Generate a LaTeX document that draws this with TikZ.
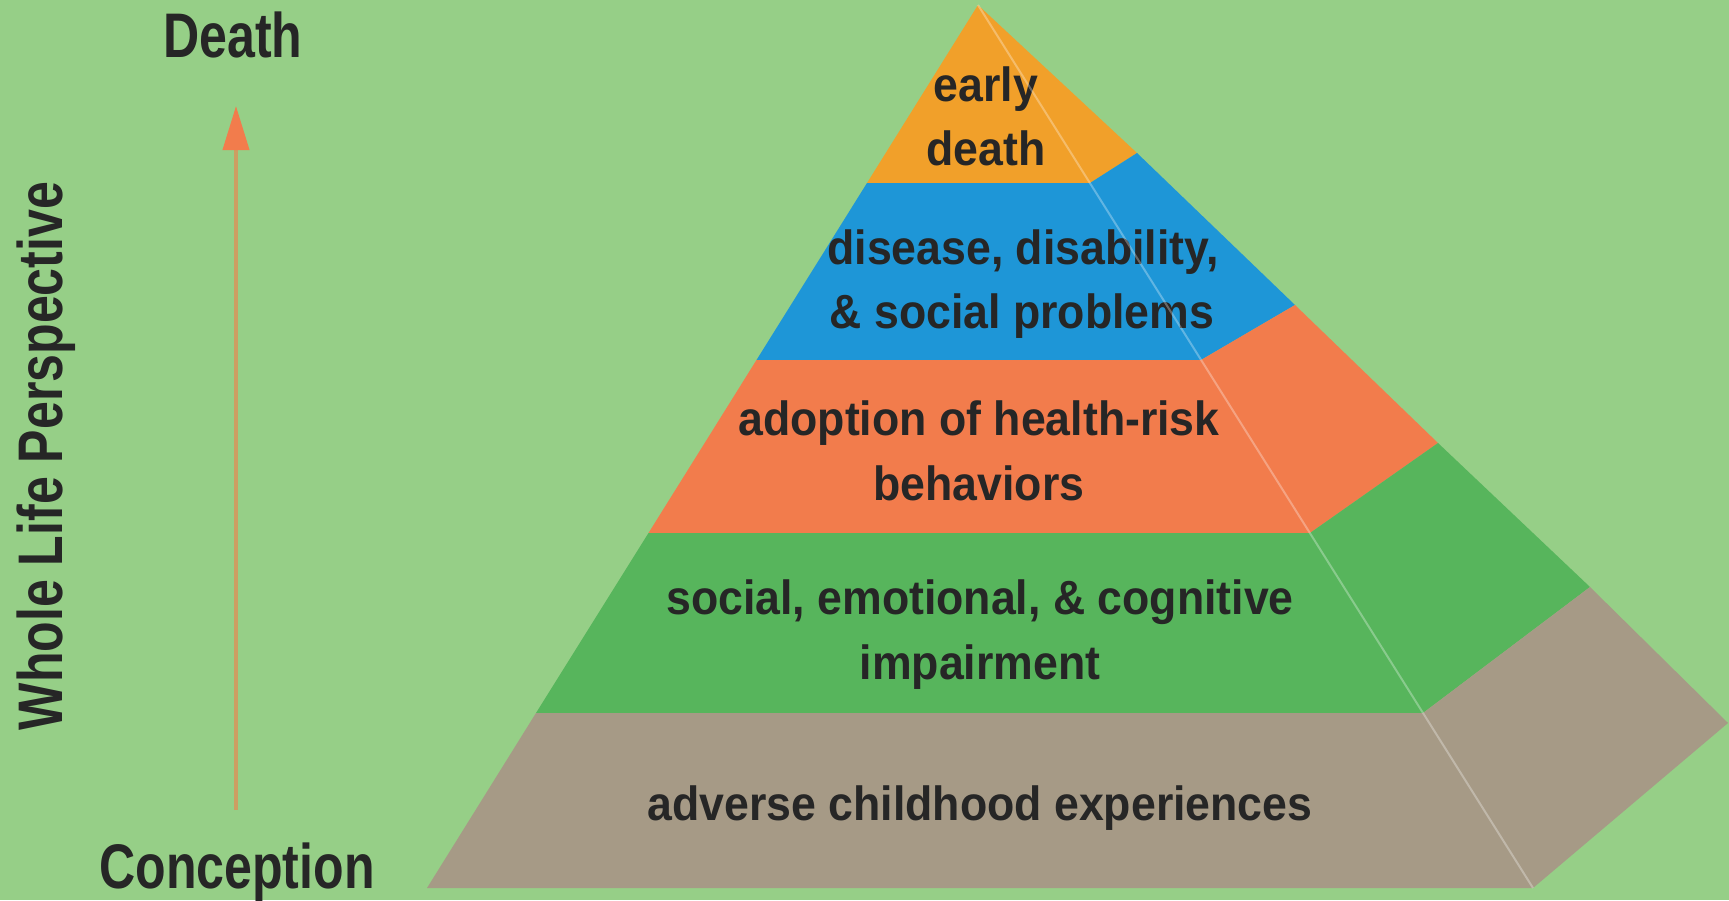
\documentclass[tikz,border=0pt]{standalone}
\usepackage{fontspec}
\usetikzlibrary{arrows.meta}
\newfontfamily\pyrfont[FakeStretch=0.93]{Liberation Sans}
\newfontfamily\lblfont[FakeStretch=0.795]{Liberation Sans}
\definecolor{bggreen}{RGB}{150,207,135}
\definecolor{toporange}{RGB}{241,160,42}
\definecolor{pblue}{RGB}{30,150,215}
\definecolor{pcoral}{RGB}{242,124,76}
\definecolor{pgreen}{RGB}{87,181,92}
\definecolor{pgrey}{RGB}{166,154,134}
\definecolor{txt}{RGB}{38,38,38}
\definecolor{arrowtan}{RGB}{205,158,98}
\tikzset{
  ptext/.style={font=\pyrfont\bfseries\fontsize{48}{56}\selectfont, text=txt, inner sep=0pt, anchor=base},
  lbl/.style={font=\lblfont\bfseries\fontsize{63}{70}\selectfont, text=txt, inner sep=0pt, anchor=base},
  ridge/.style={draw=white, draw opacity=0.3, line width=2pt},
}
\begin{document}
\begin{tikzpicture}[x=1pt,y=-1pt]
\useasboundingbox (0,0) rectangle (1729,900);
\fill[bggreen] (0,0) rectangle (1729,900);
% key points
\coordinate (A) at (978,5);
\coordinate (L1) at (867,183);  \coordinate (R1) at (1090,183); \coordinate (O1) at (1137,153);
\coordinate (L2) at (756.5,360);\coordinate (R2) at (1201,360); \coordinate (O2) at (1295,305);
\coordinate (L3) at (648.5,533);\coordinate (R3) at (1310,533); \coordinate (O3) at (1438,443);
\coordinate (L4) at (536,713);  \coordinate (R4) at (1423,713); \coordinate (O4) at (1590,587);
\coordinate (L5) at (427,888);  \coordinate (R5) at (1533,888); \coordinate (O5) at (1728,723);
% bands
\fill[toporange] (A) -- (L1) -- (R1) -- (O1) -- cycle;
\fill[pblue] (L1) -- (L2) -- (R2) -- (O2) -- (O1) -- (R1) -- cycle;
\fill[pcoral] (L2) -- (L3) -- (R3) -- (O3) -- (O2) -- (R2) -- cycle;
\fill[pgreen] (L3) -- (L4) -- (R4) -- (O4) -- (O3) -- (R3) -- cycle;
\fill[pgrey] (L4) -- (L5) -- (R5) -- (O5) -- (O4) -- (R4) -- cycle;
% texts
\node[ptext] (t1a) at (986,101) {early};
\node[ptext] (t1b) at (986,165) {death};
\node[ptext] (t2a) at (1023,264) {disease, disability,};
\node[ptext] (t2b) at (1022,328) {\& social problems};
\node[ptext] (t3a) at (979,435) {adoption of health-risk};
\node[ptext] (t3b) at (979,500) {behaviors};
\node[ptext] (t4a) at (980,614) {social, emotional, \& cognitive};
\node[ptext] (t4b) at (980,679) {impairment};
\node[ptext] (t5) at (980,820) {adverse childhood experiences};
% ridge line
\draw[ridge] (A) -- (R5);
% side labels
\node[lbl] (death) at (233,57) {Death};
\node[lbl] (conc) at (237,888) {Conception};
\node[lbl, rotate=90] (whole) at (62,456) {Whole Life Perspective};
\coordinate (abot) at (236,810);
\coordinate (atop) at (236,106);
\draw[arrowtan, line width=4pt, -{Triangle[length=44pt,width=26pt,color=pcoral]}] (abot) -- (atop);
\end{tikzpicture}
\end{document}
